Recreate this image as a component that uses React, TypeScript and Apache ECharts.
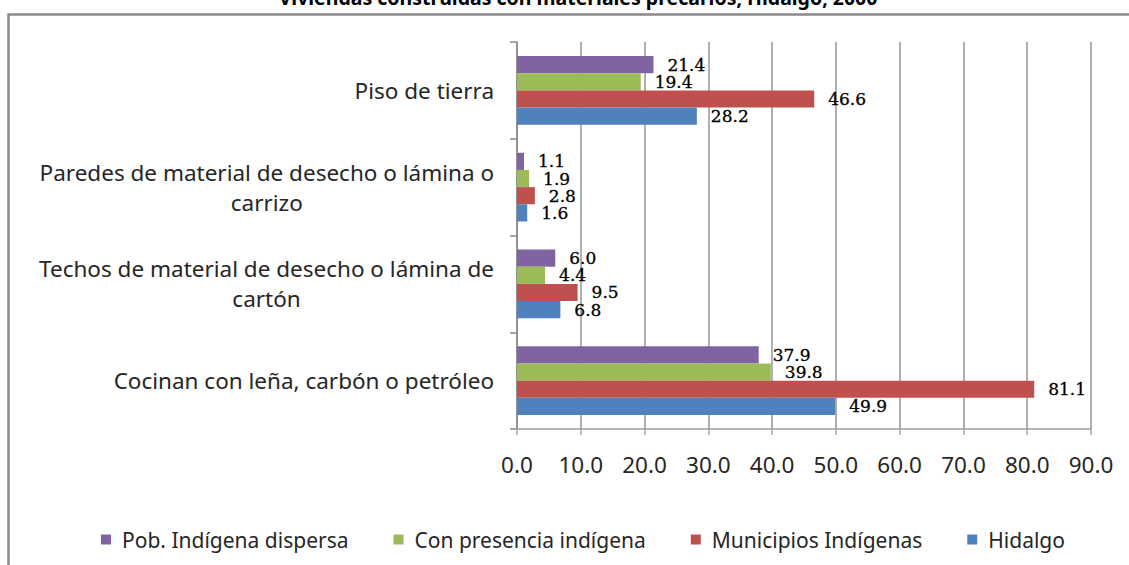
import React, { useEffect, useRef } from "react";
import * as echarts from "echarts";

const titleText = "Viviendas construidas con materiales precarios, Hidalgo, 2000";
const categories = [
  "Cocinan con leña, carbón o petróleo",
  "Techos de material de desecho o lámina de\ncartón",
  "Paredes de material de desecho o lámina o\ncarrizo",
  "Piso de tierra",
];
const seriesNames = [
  "Pob. Indígena dispersa",
  "Con presencia indígena",
  "Municipios Indígenas",
  "Hidalgo",
];
const dispersa = [37.9, 6.0, 1.1, 21.4];
const presencia = [39.8, 4.4, 1.9, 19.4];
const municipios = [81.1, 9.5, 2.8, 46.6];
const hidalgo = [49.9, 6.8, 1.6, 28.2];
const colors = ["#8064A2", "#9BBB59", "#C0504D", "#4F81BD"];
const xMin = 0;
const xMax = 90;
const xInterval = 10;

const SANS = "'Noto Sans', 'Open Sans', sans-serif";
const SERIF = "'DejaVu Serif', 'Liberation Serif', serif";

export default function App() {
  const ref = useRef<HTMLDivElement>(null);
  useEffect(() => {
    document.body.style.margin = "0";
    if (!ref.current) return;
    const chart = echarts.init(ref.current, null, { renderer: "svg" });
    const allData = [dispersa, presencia, municipios, hidalgo];
    chart.setOption({
      animation: false,
      backgroundColor: "#ffffff",
      color: colors,
      graphic: [
        {
          type: "rect",
          z: -10,
          shape: { x: 8.5, y: 14.5, width: 1200, height: 700 },
          style: { fill: "#ffffff", stroke: "#8a8a8a", lineWidth: 2.5 },
        },
        {
          type: "text",
          x: 578,
          y: -3,
          style: {
            text: titleText,
            font: `bold 19.5px ${SANS}`,
            fill: "#000",
            align: "center",
            verticalAlign: "middle",
          },
        },
      ],
      legend: {
        data: seriesNames,
        left: 96,
        top: 524,
        itemWidth: 10,
        itemHeight: 10,
        itemGap: 45,
        icon: "rect",
        textStyle: { fontFamily: SANS, fontSize: 21, color: "#262626", padding: [0, 0, 0, 6] },
      },
      grid: { left: 517, right: 38, top: 42, bottom: 136, containLabel: false },
      xAxis: {
        type: "value",
        min: xMin,
        max: xMax,
        interval: xInterval,
        axisLine: { show: true, lineStyle: { color: "#9a9a9a", width: 1.5 } },
        axisTick: { show: true, length: 6, lineStyle: { color: "#a8a8a8", width: 1.5 } },
        splitLine: { show: true, lineStyle: { color: "#b0b0b0", width: 2 } },
        axisLabel: {
          formatter: (v: number) => v.toFixed(1),
          fontFamily: SANS,
          fontSize: 22.5,
          color: "#262626",
          margin: 24,
        },
      },
      yAxis: {
        type: "category",
        data: categories,
        axisLine: { show: true, lineStyle: { color: "#8a8a8a", width: 1.5 } },
        axisTick: { show: true, length: 7, lineStyle: { color: "#8a8a8a", width: 1.5 } },
        axisLabel: {
          margin: 23,
          formatter: (v: string) =>
            v
              .split("\n")
              .map((line) => `{c|${line}}`)
              .join("\n"),
          rich: {
            c: {
              align: "center",
              fontFamily: SANS,
              fontSize: 22.5,
              color: "#262626",
              lineHeight: 30,
            },
          },
        },
      },
      series: seriesNames.map((name, i) => ({
        name,
        type: "bar",
        data: allData[i],
        barGap: "0%",
        barCategoryGap: "29%",
        itemStyle: { color: colors[i] },
        label: {
          show: true,
          position: "right",
          distance: 14,
          formatter: (p: any) => Number(p.value).toFixed(1),
          fontFamily: SERIF,
          fontSize: 17,
          lineHeight: 16,
          color: "#000",
          textBorderColor: "#000",
          textBorderWidth: 0.3,
        },
      })),
    });
    return () => chart.dispose();
  }, []);
  return <div ref={ref} style={{ width: 1129, height: 565 }} />;
}
